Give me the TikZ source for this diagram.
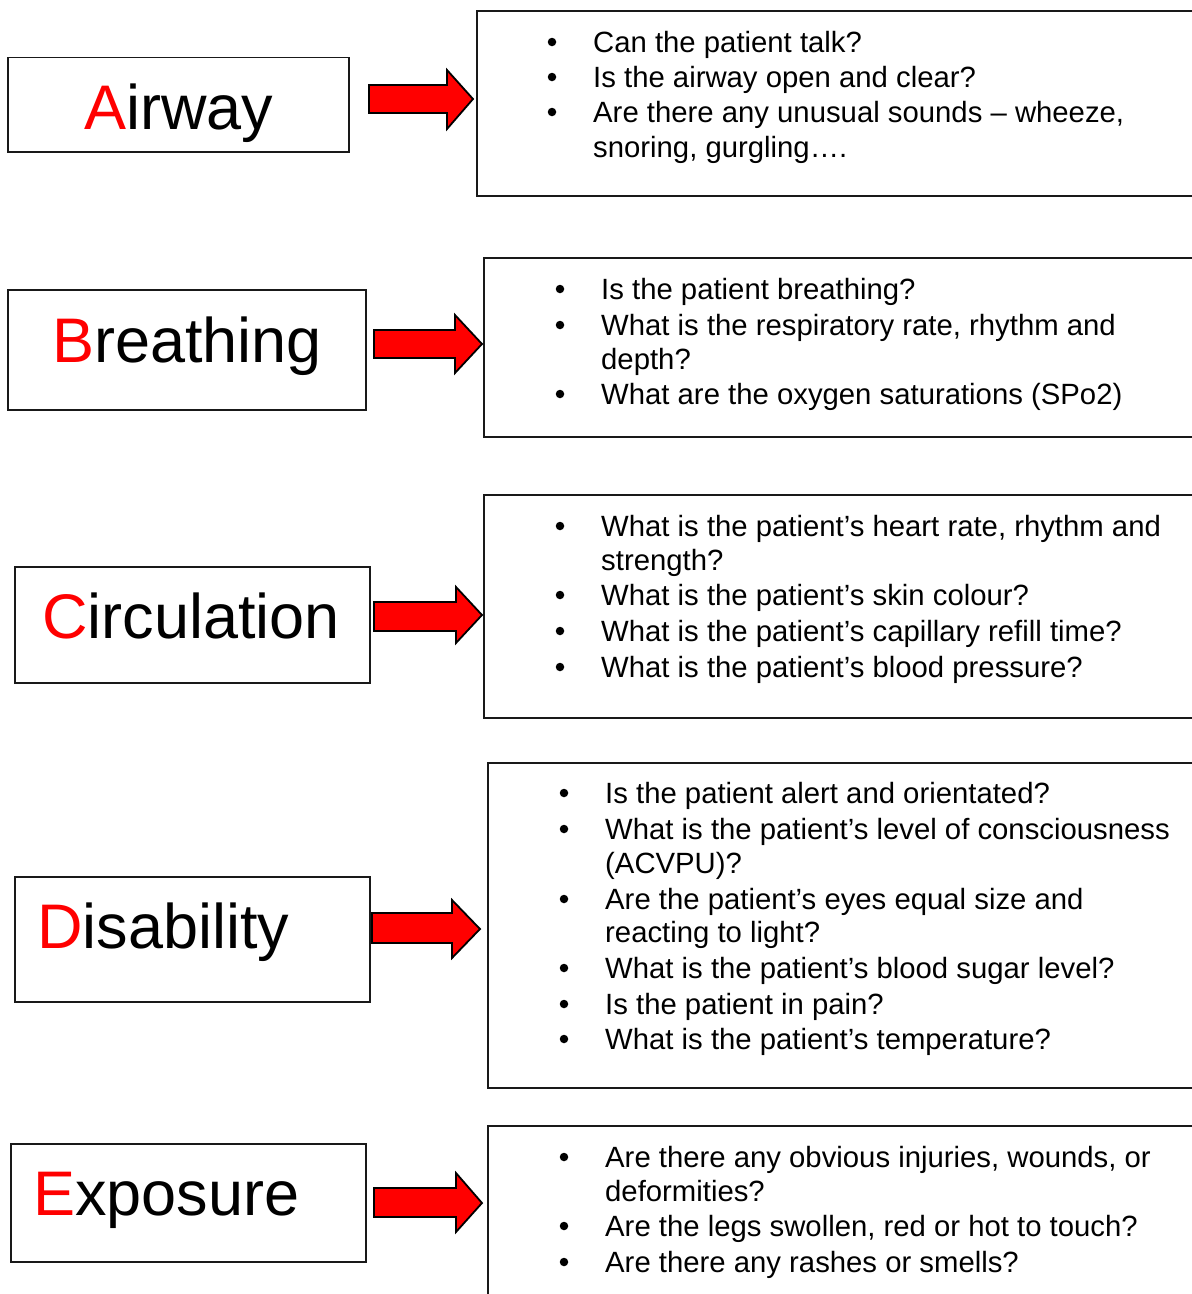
\documentclass[tikz,border=0pt]{standalone}
\usepackage{fontspec}
\setmainfont{Liberation Sans}
\begin{document}
\begin{tikzpicture}[x=1pt,y=-1pt,
  boxline/.style={draw=black!90,line width=1.6pt},
  lbox/.style={boxline,rectangle,inner sep=0pt,fill=white},
  lab/.style={inner sep=0pt,font=\fontsize{63}{70}\selectfont},
  qtext/.style={inner sep=0pt,font=\fontsize{29.3}{35}\selectfont},
  bul/.style={circle,fill=black,inner sep=0pt,minimum size=8.5pt},
  blockarrow/.style={fill=red,draw=black,line width=1.8pt,line join=miter}]
\useasboundingbox (0,0) rectangle (1192,1294);
\clip (0,0) rectangle (1192,1294);
\newcommand\qb[4]{\node[bul] (#1b) at (#2-41,#3-10) {};\node[qtext,anchor=base west] (#1) at (#2,#3) {#4};}
\newcommand\qc[4]{\node[qtext,anchor=base west] (#1) at (#2,#3) {#4};}

% ---------- left boxes ----------
\node[lbox,minimum width=341pt,minimum height=94.5pt] (A) at (178.5,104.75) {};
\node[lbox,minimum width=358pt,minimum height=120pt] (B) at (187,350) {};
\node[lbox,minimum width=355pt,minimum height=116pt] (C) at (192.5,625) {};
\node[lbox,minimum width=355pt,minimum height=125pt] (D) at (192.5,939.5) {};
\node[lbox,minimum width=355pt,minimum height=118pt] (E) at (188.5,1203) {};

\node[lab,anchor=base west] (Al) at (84,129) {\textcolor{red}{A}irway};
\node[lab,anchor=base west] (Bl) at (52,362) {\textcolor{red}{B}reathing};
\node[lab,anchor=base west] (Cl) at (42,638) {\textcolor{red}{C}irculation};
\node[lab,anchor=base west] (Dl) at (37,948) {\textcolor{red}{D}isability};
\node[lab,anchor=base west] (El) at (33,1215) {\textcolor{red}{E}xposure};

% ---------- right boxes ----------
\node[lbox,minimum width=723pt,minimum height=185pt] (RA) at (838.5,103.5) {};
\node[lbox,minimum width=716pt,minimum height=179pt] (RB) at (842,347.5) {};
\node[lbox,minimum width=716pt,minimum height=223pt] (RC) at (842,606.5) {};
\node[lbox,minimum width=712pt,minimum height=325pt] (RD) at (844,925.5) {};
\node[lbox,minimum width=712pt,minimum height=184pt] (RE) at (844,1218) {};

% ---------- block arrows ----------
\draw[blockarrow] (369,85) -- (447,85) -- (447,70) -- (473,99) -- (447,129) -- (447,113) -- (369,113) -- cycle;
\draw[blockarrow] (374,330) -- (455,330) -- (455,315) -- (482,344) -- (455,373) -- (455,358) -- (374,358) -- cycle;
\draw[blockarrow] (374,602) -- (456,602) -- (456,587) -- (482,615) -- (456,643) -- (456,631) -- (374,631) -- cycle;
\draw[blockarrow] (372,913) -- (452,913) -- (452,900) -- (480,929) -- (452,958) -- (452,943) -- (372,943) -- cycle;
\draw[blockarrow] (374,1188) -- (456,1188) -- (456,1173) -- (482,1203) -- (456,1232) -- (456,1217) -- (374,1217) -- cycle;

% ---------- texts ----------
\qb{a1}{593}{52}{Can the patient talk?}
\qb{a2}{593}{87}{Is the airway open and clear?}
\qb{a3}{593}{122}{Are there any unusual sounds – wheeze,}
\qc{a4}{593}{157}{snoring, gurgling….}

\qb{b1}{601}{299}{Is the patient breathing?}
\qb{b2}{601}{335}{What is the respiratory rate, rhythm and}
\qc{b3}{601}{369}{depth?}
\qb{b4}{601}{404}{What are the oxygen saturations (SPo2)}

\qb{c1}{601}{536}{What is the patient’s heart rate, rhythm and}
\qc{c2}{601}{570}{strength?}
\qb{c3}{601}{605}{What is the patient’s skin colour?}
\qb{c4}{601}{641}{What is the patient’s capillary refill time?}
\qb{c5}{601}{677}{What is the patient’s blood pressure?}

\qb{d1}{605}{803}{Is the patient alert and orientated?}
\qb{d2}{605}{839}{What is the patient’s level of consciousness}
\qc{d3}{605}{873}{(ACVPU)?}
\qb{d4}{605}{909}{Are the patient’s eyes equal size and}
\qc{d5}{605}{942}{reacting to light?}
\qb{d6}{605}{978}{What is the patient’s blood sugar level?}
\qb{d7}{605}{1014}{Is the patient in pain?}
\qb{d8}{605}{1049}{What is the patient’s temperature?}

\qb{e1}{605}{1167}{Are there any obvious injuries, wounds, or}
\qc{e2}{605}{1201}{deformities?}
\qb{e3}{605}{1236}{Are the legs swollen, red or hot to touch?}
\qb{e4}{605}{1272}{Are there any rashes or smells?}
\end{tikzpicture}
\end{document}
